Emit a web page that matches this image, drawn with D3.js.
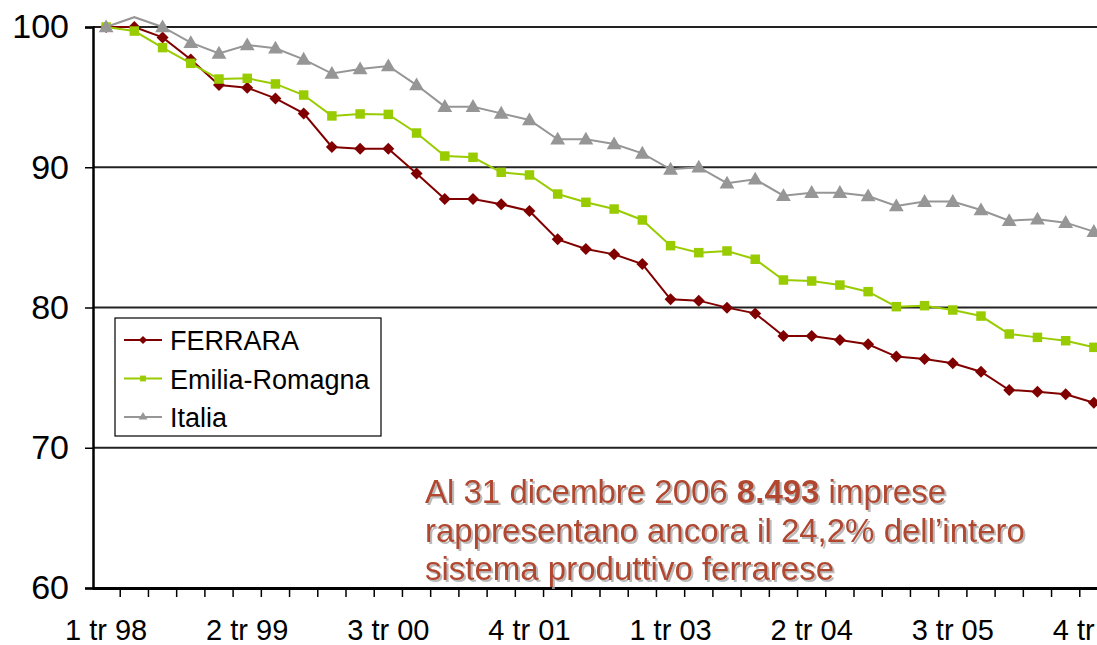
<!DOCTYPE html>
<html>
<head>
<meta charset="utf-8">
<script src="https://cdn.jsdelivr.net/npm/d3@7"></script>
<style>
  html, body { margin: 0; padding: 0; background: #fff; overflow: hidden; }
  svg { display: block; font-family: "Liberation Sans", Arial, sans-serif; }
</style>
</head>
<body>
<svg id="chart" width="1097" height="645"></svg>
<script>
const years = ["98","99","00","01","02","03","04","05","06"];
const categories = [];
years.forEach(y => { for (let q = 1; q <= 4; q++) categories.push(q + " tr " + y); });

const tickLabels = ["1 tr 98","2 tr 99","3 tr 00","4 tr 01","1 tr 03","2 tr 04","3 tr 05","4 tr 06"];
const yTicks = [60, 70, 80, 90, 100];

const ferrara = [100, 100, 99.26, 97.69, 95.86, 95.67, 94.91, 93.84, 91.45, 91.32, 91.32, 89.56,
  87.74, 87.74, 87.36, 86.88, 84.86, 84.17, 83.79, 83.10, 80.58, 80.49, 79.99, 79.58,
  77.97, 77.97, 77.68, 77.38, 76.50, 76.33, 76.02, 75.42, 74.12, 74.00, 73.81, 73.21];
const emilia = [100, 99.71, 98.53, 97.41, 96.29, 96.34, 95.94, 95.15, 93.66, 93.80, 93.77, 92.44,
  90.80, 90.71, 89.64, 89.45, 88.09, 87.50, 87.02, 86.24, 84.41, 83.91, 84.03, 83.44,
  81.96, 81.89, 81.60, 81.13, 80.06, 80.13, 79.82, 79.39, 78.11, 77.87, 77.63, 77.16];
const italia = [100, 100.7, 100, 98.88, 98.12, 98.72, 98.48, 97.69, 96.68, 97.0, 97.22, 95.86,
  94.32, 94.32, 93.84, 93.37, 91.99, 91.99, 91.66, 90.99, 89.85, 90.0, 88.86, 89.14,
  87.97, 88.19, 88.19, 87.95, 87.24, 87.55, 87.55, 86.95, 86.19, 86.29, 86.05, 85.41];

const seriesNames = ["FERRARA", "Emilia-Romagna", "Italia"];
const seriesData = [ferrara, emilia, italia];
const seriesColors = ["#800000", "#99cc00", "#969696"];
const seriesSymbols = [d3.symbolSquare, d3.symbolSquare, d3.symbolTriangle];
const symbolRot = [45, 0, 0];
const symbolSizes = [72, 90, 95];

const noteLines = [
  [{t: "Al 31 dicembre 2006 ", b: false}, {t: "8.493", b: true}, {t: " imprese", b: false}],
  [{t: "rappresentano ancora il 24,2% dell\u2019intero", b: false}],
  [{t: "sistema produttivo ferrarese", b: false}]
];

const svg = d3.select("#chart");
const mLeft = 93, mRight = 1108, mTop = 27, mBottom = 588;

const x = d3.scaleBand().domain(categories).range([mLeft - 1, mRight]).padding(0);
const y = d3.scaleLinear().domain([60, 100]).range([mBottom, mTop]);
const cx = c => x(c) + x.bandwidth() / 2;

// gridlines
svg.append("g").selectAll("line").data(yTicks.filter(v => v > 60)).join("line")
  .attr("x1", mLeft).attr("x2", 1097)
  .attr("y1", d => y(d)).attr("y2", d => y(d))
  .attr("stroke", "#222").attr("stroke-width", 2);

// y axis
const yAxis = svg.append("g").attr("transform", `translate(${mLeft},0)`)
  .call(d3.axisLeft(y).tickValues(yTicks).tickSize(8).tickPadding(16).tickFormat(d3.format("d")));
yAxis.select(".domain").attr("stroke", "#000").attr("stroke-width", 2.5);
yAxis.selectAll(".tick line").attr("stroke", "#000").attr("stroke-width", 1.5);
yAxis.selectAll("text").attr("font-size", 34).attr("fill", "#000")
  .attr("font-family", "'Liberation Sans', Arial, sans-serif");

// x axis
const xAxis = svg.append("g").attr("transform", `translate(0,${mBottom})`)
  .call(d3.axisBottom(x).tickSize(0).tickFormat(""));
xAxis.select(".domain").attr("stroke", "#000").attr("stroke-width", 3);
xAxis.selectAll(".tick").remove();
// tick marks at category boundaries
svg.append("g").selectAll("line").data(categories.slice(1)).join("line")
  .attr("x1", d => x(d)).attr("x2", d => x(d))
  .attr("y1", mBottom).attr("y2", mBottom + 9)
  .attr("stroke", "#000").attr("stroke-width", 1.5);
// labels
svg.append("g").selectAll("text").data(tickLabels).join("text")
  .attr("x", d => cx(d)).attr("y", 640)
  .attr("text-anchor", "middle")
  .attr("font-size", 29).attr("fill", "#000")
  .text(d => d);

// series
seriesData.forEach((vals, si) => {
  const pts = vals.map((v, i) => ({c: categories[i], v}));
  svg.append("path").datum(pts)
    .attr("fill", "none").attr("stroke", seriesColors[si]).attr("stroke-width", 2)
    .attr("d", d3.line().x(d => cx(d.c)).y(d => y(d.v)));
  svg.append("g").selectAll("path").data(pts.filter(d => d.v <= 100)).join("path")
    .attr("transform", d => `translate(${cx(d.c)},${y(d.v) + (si === 2 ? 1 : 0)}) rotate(${symbolRot[si]})`)
    .attr("d", d3.symbol().type(seriesSymbols[si]).size(symbolSizes[si]))
    .attr("fill", seriesColors[si]);
});

// legend
const lg = svg.append("g").attr("transform", "translate(115,318)");
lg.append("rect").attr("width", 266).attr("height", 118)
  .attr("fill", "#fff").attr("stroke", "#000").attr("stroke-width", 1.2);
seriesNames.forEach((n, i) => {
  const ly = 22 + i * 38.5;
  lg.append("line").attr("x1", 9).attr("x2", 47).attr("y1", ly).attr("y2", ly)
    .attr("stroke", seriesColors[i]).attr("stroke-width", 2);
  lg.append("path").attr("transform", `translate(28,${ly}) rotate(${symbolRot[i]})`)
    .attr("d", d3.symbol().type(seriesSymbols[i]).size(34))
    .attr("fill", seriesColors[i]);
  lg.append("text").attr("x", 55).attr("y", ly + 10)
    .attr("font-size", 27).attr("fill", "#000").text(n);
});

// annotation
const defs = svg.append("defs");
const f = defs.append("filter").attr("id", "sh").attr("x", "-5%").attr("y", "-20%").attr("width", "110%").attr("height", "140%");
f.append("feDropShadow").attr("dx", 2).attr("dy", 2).attr("stdDeviation", 0.7)
  .attr("flood-color", "#aaa").attr("flood-opacity", 0.8);
const note = svg.append("text").attr("filter", "url(#sh)")
  .attr("font-size", 33).attr("fill", "#b0462d");
noteLines.forEach((ln, i) => {
  const t = note.append("tspan").attr("x", 425).attr("y", 503 + i * 38.5);
  ln.forEach((seg, k) => {
    const s = k === 0 ? t : note.append("tspan");
    s.text(seg.t);
    if (seg.b) s.attr("font-weight", "bold");
  });
});
</script>
</body>
</html>
